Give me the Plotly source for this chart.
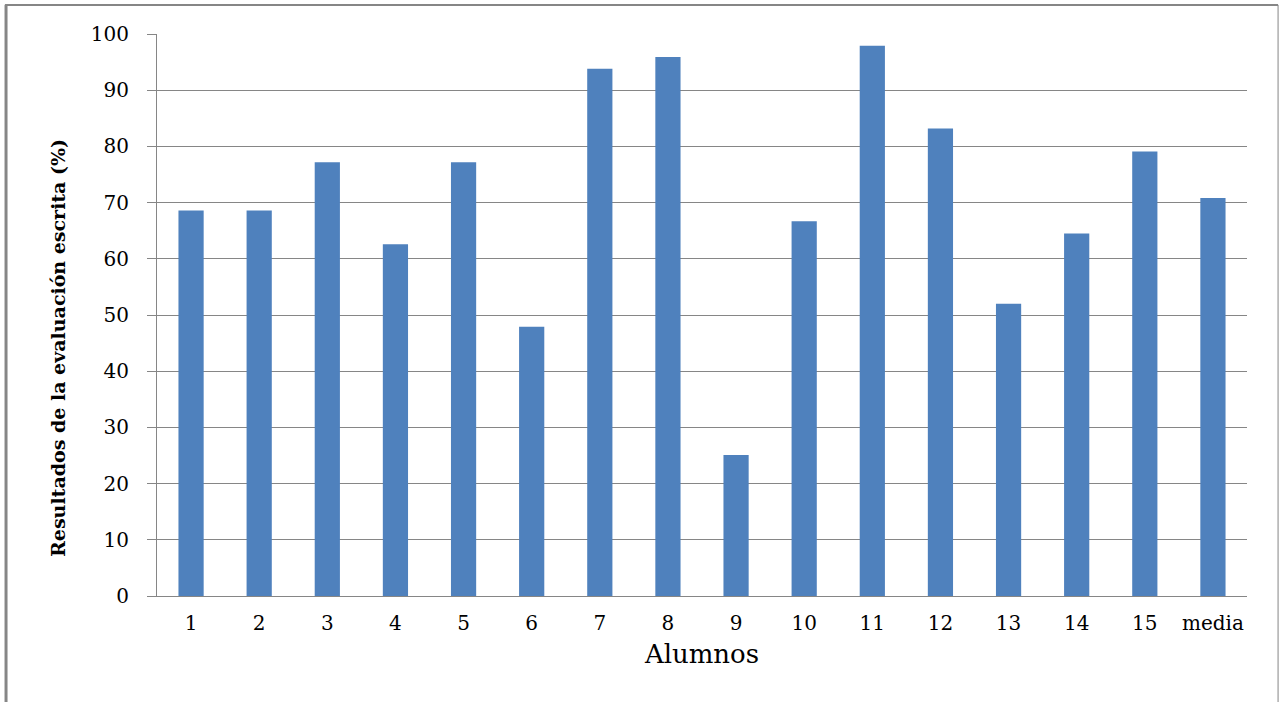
import plotly.graph_objects as go

categories = ["1", "2", "3", "4", "5", "6", "7", "8", "9", "10", "11", "12", "13", "14", "15", "media"]
values = [68.6, 68.6, 77.2, 62.6, 77.2, 47.9, 93.8, 95.9, 25.1, 66.7, 97.9, 83.2, 52.0, 64.5, 79.1, 70.8]
y_ticks = [0, 10, 20, 30, 40, 50, 60, 70, 80, 90, 100]

GRAY = "#868686"
FONT = "DejaVu Serif"

fig = go.Figure(go.Bar(x=categories, y=values, marker=dict(color="#4F81BD", line=dict(width=0))))

fig.update_layout(
    width=1280, height=702,
    margin=dict(l=157, r=33, t=34, b=106),
    paper_bgcolor="white", plot_bgcolor="white",
    bargap=0.63,
    showlegend=False,
    font=dict(family=FONT, color="black"),
    xaxis=dict(
        type="category",
        showline=True, linecolor=GRAY, linewidth=1,
        ticks="", tickfont=dict(family=FONT, size=20),
        ticklabelstandoff=9,
        title=dict(text="Alumnos", font=dict(family=FONT, size=26), standoff=10),
    ),
    yaxis=dict(
        range=[0, 100], tickvals=y_ticks,
        showgrid=True, gridcolor=GRAY, gridwidth=1,
        showline=True, linecolor=GRAY, linewidth=1,
        ticks="outside", ticklen=9, tickcolor=GRAY,
        tickfont=dict(family=FONT, size=20),
        ticklabelstandoff=14,
        zeroline=False,
    ),
    annotations=[
        dict(text="<b>Resultados de la evaluación escrita (%)</b>", textangle=-90,
             xref="paper", yref="paper", x=(58 - 157) / 1090, y=(596 - 348) / 562,
             xanchor="center", yanchor="middle", showarrow=False,
             font=dict(family=FONT, size=19, color="black")),
    ],
    shapes=[
        dict(type="line", xref="paper", yref="paper", x0=-0.1385, x1=-0.1385, y0=1.052, y1=-0.2, line=dict(color=GRAY, width=3)),
        dict(type="line", xref="paper", yref="paper", x0=-0.1394, x1=1.0285, y0=1.0516, y1=1.0516, line=dict(color=GRAY, width=2)),
        dict(type="line", xref="paper", yref="paper", x0=1.0285, x1=1.0285, y0=1.0516, y1=-0.2, line=dict(color=GRAY, width=1)),
    ],
)

fig.write_html("out.html")
